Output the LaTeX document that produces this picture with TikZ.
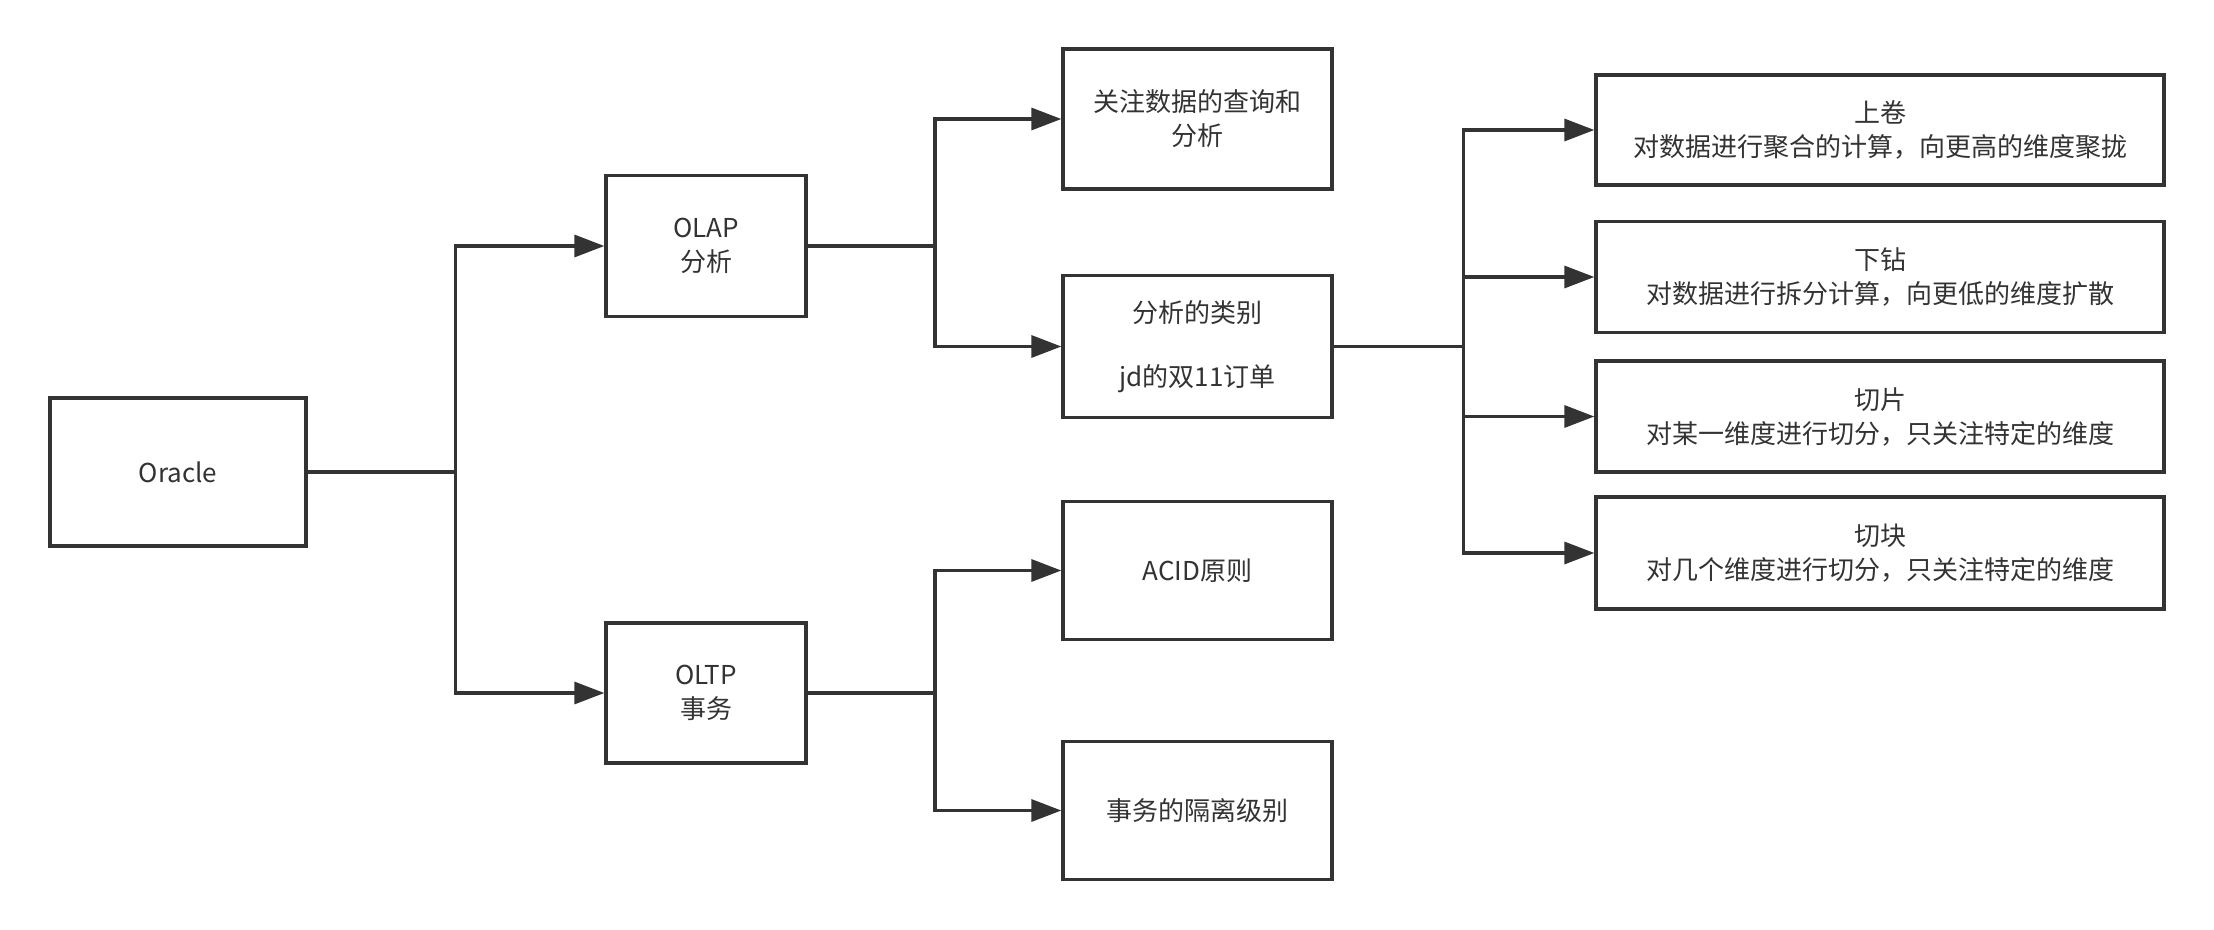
\documentclass[tikz,border=0pt]{standalone}
\usepackage{fontspec}
\setmainfont{Noto Sans CJK SC}
\usetikzlibrary{arrows.meta}
\definecolor{ink}{HTML}{333333}
\tikzset{
  box/.style={draw=ink, line width=3.3pt, fill=white, text=ink, align=center,
    inner sep=0pt, minimum width=#1, font=\fontsize{26}{34}\selectfont},
  conn/.style={draw=ink, line width=3.3pt},
  arr/.style={conn, -{Triangle[length=30pt,width=22pt]}}
}
\begin{document}
\begin{tikzpicture}[x=1pt,y=-1pt]
\useasboundingbox (0,0) rectangle (2214,929);
% level 0
\node[box=256pt, minimum height=148pt] (oracle) at (178,472) {Oracle};
% level 1
\node[box=200pt, minimum height=141pt] (olap) at (706,246) {OLAP\\分析};
\node[box=200pt, minimum height=140pt] (oltp) at (706,693) {OLTP\\事务};
% level 2
\node[box=269pt, minimum height=140pt] (m1) at (1197.5,119) {关注数据的查询和\\分析};
\node[box=269pt, minimum height=142pt] (m2) at (1197.5,346.5) {分析的类别\\[30pt]jd的双11订单};
\node[box=269pt, minimum height=138pt] (m3) at (1197.5,570.5) {ACID原则};
\node[box=269pt, minimum height=138pt] (m4) at (1197.5,810.5) {事务的隔离级别};
% level 3
\node[box=568pt, minimum height=110pt] (r1) at (1880,130) {上卷\\对数据进行聚合的计算，向更高的维度聚拢};
\node[box=568pt, minimum height=111pt] (r2) at (1880,277) {下钻\\对数据进行拆分计算，向更低的维度扩散};
\node[box=568pt, minimum height=111pt] (r3) at (1880,416.5) {切片\\对某一维度进行切分，只关注特定的维度};
\node[box=568pt, minimum height=112pt] (r4) at (1880,553) {切块\\对几个维度进行切分，只关注特定的维度};
% branch points
\coordinate (b0) at (455.5,472);
\coordinate (b1) at (935,246);
\coordinate (b2) at (935,693);
\coordinate (b3) at (1463.5,346.5);
% connectors
\draw[conn] (oracle.east) -- (b0);
\draw[arr] (b0) |- (olap.west);
\draw[arr] (b0) |- (oltp.west);
\draw[conn] (olap.east) -- (b1);
\draw[arr] (b1) |- (m1.west);
\draw[arr] (b1) |- (m2.west);
\draw[conn] (oltp.east) -- (b2);
\draw[arr] (b2) |- (m3.west);
\draw[arr] (b2) |- (m4.west);
\draw[conn] (m2.east) -- (b3);
\draw[arr] (b3) |- (r1.west);
\draw[arr] (b3) |- (r2.west);
\draw[arr] (b3) |- (r3.west);
\draw[arr] (b3) |- (r4.west);
\end{tikzpicture}
\end{document}
